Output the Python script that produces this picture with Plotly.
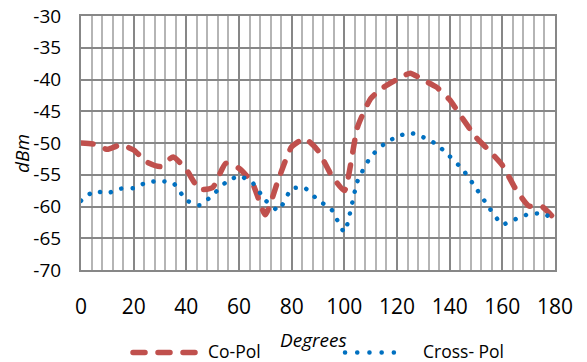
import plotly.graph_objects as go

# ---- data ----
degrees = [0, 5, 10, 15, 20, 25, 30, 35, 40, 45, 50, 55, 60, 65, 70, 75, 80, 85, 90,
           95, 100, 105, 110, 115, 120, 125, 130, 135, 140, 145, 150, 155, 160, 165,
           170, 175, 180]
co_pol = [-50.0, -50.2, -51.0, -50.3, -51.1, -53.0, -53.7, -52.2, -54.2, -57.3, -57.0,
          -53.2, -54.0, -56.2, -61.3, -55.7, -50.6, -49.3, -51.2, -55.0, -57.5, -47.5,
          -43.0, -41.2, -40.0, -39.0, -40.1, -41.2, -43.2, -46.2, -49.1, -51.2, -53.5,
          -57.2, -59.9, -60.0, -62.0]
cross_pol = [-59.1, -57.6, -57.9, -57.2, -57.1, -56.2, -56.0, -56.3, -59.0, -59.8, -58.2,
             -56.2, -55.2, -56.2, -59.0, -60.6, -57.2, -57.1, -59.0, -60.4, -64.0, -56.0,
             -52.2, -50.2, -49.0, -48.4, -49.1, -50.2, -52.1, -54.2, -57.1, -60.2, -62.8,
             -62.0, -61.2, -61.1, -62.0]
x_ticks = list(range(0, 181, 20))
y_ticks = list(range(-70, -29, 5))
y_tick_labels = ["-70", "-65", "-60", "-55", "-50", "-45", "-40", "-35", "-30"]
series_names = ["Co-Pol", "Cross- Pol"]

# ---- layout geometry ----
W, H = 587, 362
L, R, T, B = 81, 32, 16, 92
PW, PH = W - L - R, H - T - B

def fx(px):
    return (px - L) / PW

def fy(py):
    return (H - B - py) / PH

RED = "#C0504D"
BLUE = "#0070C0"
MAJOR = "#878787"
MINOR = "#B5B5B5"
FONT = "Open Sans"

fig = go.Figure()
fig.add_trace(go.Scatter(
    x=degrees, y=co_pol, mode="lines", name=series_names[0], showlegend=False,
    line=dict(color=RED, width=5.5, dash="12px,13px", shape="spline", smoothing=0.5),
))
fig.add_trace(go.Scatter(
    x=degrees, y=cross_pol, mode="lines", name=series_names[1], showlegend=False,
    line=dict(color=BLUE, width=4.5, dash="0.1px,11px", shape="spline", smoothing=0.5),
))

fig.update_layout(
    width=W, height=H,
    margin=dict(l=L, r=R, t=T, b=B, pad=0),
    paper_bgcolor="white", plot_bgcolor="white",
    font=dict(family=FONT, color="black"),
    xaxis=dict(
        range=[0, 180], tickvals=x_ticks, ticks="", automargin=False,
        showgrid=True, gridcolor=MAJOR, gridwidth=2,
        minor=dict(tick0=0, dtick=4, showgrid=True, gridcolor=MINOR, gridwidth=2),
        showline=True, mirror=True, linecolor=MAJOR, linewidth=2, zeroline=False,
        tickfont=dict(size=21, family=FONT, color="black"), ticklabelstandoff=17,
    ),
    yaxis=dict(
        range=[-70, -30], tickvals=y_ticks, ticktext=y_tick_labels, ticks="",
        automargin=False,
        showgrid=True, gridcolor=MAJOR, gridwidth=2,
        showline=True, mirror=True, linecolor=MAJOR, linewidth=2, zeroline=False,
        tickfont=dict(size=19, family=FONT, color="black"), ticklabelstandoff=14,
    ),
)

# axis titles
fig.add_annotation(text="<i>dBm</i>", xref="paper", yref="paper", x=fx(22), y=fy(154),
                   textangle=-90, showarrow=False, font=dict(size=19, family=FONT),
                   xanchor="center", yanchor="middle")
fig.add_annotation(text="<i>Degrees</i>", xref="paper", yref="paper", x=fx(313), y=fy(340),
                   showarrow=False, font=dict(size=19, family=FONT),
                   xanchor="center", yanchor="middle")

# legend (drawn manually)
ly = fy(352.5)
fig.add_shape(type="line", xref="paper", yref="paper", x0=fx(133), x1=fx(195), y0=ly, y1=ly,
              line=dict(color=RED, width=5.5, dash="12px,13px"))
fig.add_shape(type="line", xref="paper", yref="paper", x0=fx(345), x1=fx(406), y0=ly, y1=ly,
              line=dict(color=BLUE, width=4.5, dash="0.1px,12.1px"))
fig.add_annotation(text=series_names[0], xref="paper", yref="paper", x=fx(207), y=fy(351),
                   showarrow=False, font=dict(size=17.5, family=FONT),
                   xanchor="left", yanchor="middle", borderpad=0)
fig.add_annotation(text=series_names[1], xref="paper", yref="paper", x=fx(422), y=fy(351),
                   showarrow=False, font=dict(size=17.5, family=FONT),
                   xanchor="left", yanchor="middle", borderpad=0)

post = ("document.body.style.margin='0';"
        "document.querySelectorAll('.scatterlayer .js-line, .shapelayer path')"
        ".forEach(function(p){p.style.strokeLinecap='round';});")
fig.write_html("out.html", post_script=post, config={"displayModeBar": False})
